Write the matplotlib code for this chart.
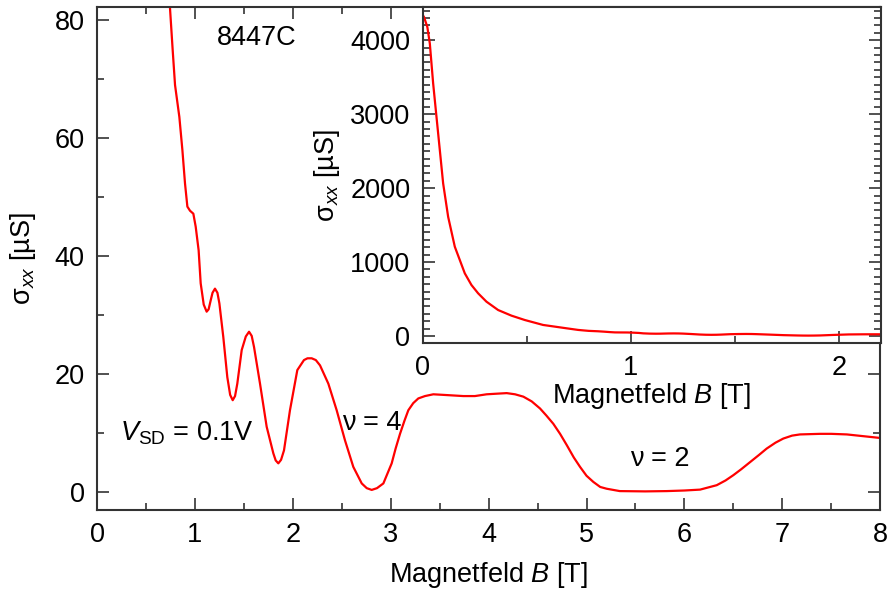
import numpy as np
import matplotlib
matplotlib.use('Agg')
import matplotlib.pyplot as plt
from matplotlib.ticker import MultipleLocator

plt.rcParams['font.family'] = ['Liberation Sans', 'DejaVu Sans']
plt.rcParams['mathtext.fontset'] = 'custom'
plt.rcParams['mathtext.rm'] = 'Liberation Sans'
plt.rcParams['mathtext.it'] = 'Liberation Sans:italic'
plt.rcParams['font.size'] = 19.5

# magnetic field [T] and sigma_xx [uS]
field = [0.0, 0.006, 0.022, 0.034, 0.050, 0.066, 0.082, 0.098, 0.122, 0.154,
         0.202, 0.234, 0.266, 0.306, 0.362, 0.426, 0.49, 0.578, 0.69, 0.746,
         0.773, 0.797, 0.841,
         0.872, 0.899, 0.923, 0.950, 0.984, 1.008, 1.038, 1.059, 1.09, 1.12,
         1.14, 1.161, 1.18, 1.205, 1.23, 1.25, 1.29, 1.331, 1.36, 1.386,
         1.41, 1.433, 1.478, 1.52, 1.553, 1.58, 1.604, 1.665, 1.733, 1.801,
         1.825, 1.852, 1.88, 1.91, 1.971, 2.046, 2.114, 2.15, 2.193, 2.235,
         2.278, 2.363, 2.448, 2.533, 2.618, 2.704, 2.755, 2.806, 2.86, 2.925,
         3.01, 3.05, 3.095, 3.14, 3.18, 3.23, 3.282, 3.35, 3.435, 3.54,
         3.742, 3.86, 3.98, 4.08, 4.185, 4.27, 4.355, 4.44, 4.525, 4.59,
         4.661, 4.73, 4.798, 4.87, 4.934, 5.0, 5.07, 5.14, 5.206, 5.34,
         5.6, 5.82, 6.0, 6.16, 6.33, 6.42, 6.50, 6.58, 6.67, 6.76,
         6.84, 6.93, 7.01, 7.1, 7.18, 7.385, 7.5, 7.66, 8.0]
sigma = [4340, 4315, 4180, 3955, 3415, 2964, 2514, 2063, 1612, 1207,
         847, 689, 577, 464, 351, 275, 216, 149, 104, 81.9,
         74.9, 69, 63.6,
         58, 52.3, 48.4, 47.7, 47.2, 45, 41, 35.4, 31.8, 30.6,
         31, 32.5, 33.8, 34.5, 33.8, 32, 26.3, 19.5, 16.5, 15.6,
         16.3, 18.4, 24.1, 26.4, 27.2, 26.5, 24.6, 18.4, 11.1, 6.6,
         5.4, 4.9, 5.5, 7.1, 13.9, 20.7, 22.4, 22.7, 22.7, 22.4,
         21.5, 18.4, 13.9, 8.8, 4.3, 1.5, 0.7, 0.4, 0.7, 1.5,
         4.9, 7.4, 9.9, 12.1, 13.9, 15.1, 15.9, 16.3, 16.6, 16.5,
         16.3, 16.3, 16.6, 16.7, 16.8, 16.6, 16.2, 15.4, 14.2, 13.0,
         11.6, 9.9, 8.0, 5.9, 4.3, 2.8, 1.75, 0.9, 0.6, 0.2,
         0.15, 0.2, 0.3, 0.45, 1.2, 2.0, 2.9, 3.9, 5.1, 6.3,
         7.4, 8.4, 9.1, 9.6, 9.8, 9.9, 9.9, 9.8, 9.2]

xlabel = 'Magnetfeld $B$ [T]'
ylabel = 'σ$_{xx}$ [µS]'
frame = '#333333'

fig = plt.figure(figsize=(8.9, 5.93), dpi=100)
ax = fig.add_axes([0.109, 0.14, 0.88, 0.848])
ax.plot(field, sigma, color='red', lw=1.6, solid_joinstyle='round')
ax.set_xlim(0, 8)
ax.set_ylim(-3, 82.2)
ax.xaxis.set_major_locator(MultipleLocator(1))
ax.xaxis.set_minor_locator(MultipleLocator(0.5))
ax.yaxis.set_major_locator(MultipleLocator(20))
ax.yaxis.set_minor_locator(MultipleLocator(10))
ax.tick_params(which='both', direction='in', top=True, right=True, width=1.2, color=frame)
ax.tick_params(which='major', length=8.5, pad=9)
ax.tick_params(which='minor', length=5)
for s in ax.spines.values():
    s.set_linewidth(1.5)
    s.set_color(frame)
ax.set_xlabel(xlabel, labelpad=8)
ax.set_ylabel(ylabel, labelpad=12)

ax.text(1.63, 77, '8447C', ha='center', va='center')
ax.text(0.235, 10, '$V_{\\mathrm{SD}}$ = 0.1V', ha='left', va='center')
ax.text(2.5, 11.7, 'ν = 4', ha='left', va='center')
ax.text(5.75, 5.6, 'ν = 2', ha='center', va='center')

# inset with the full range
ins = fig.add_axes([0.475, 0.4216, 0.5146, 0.5666])
ins.plot(field, sigma, color='red', lw=1.6, solid_joinstyle='round')
ins.set_xlim(0, 2.2)
ins.set_ylim(-95, 4450)
ins.xaxis.set_major_locator(MultipleLocator(1))
ins.xaxis.set_minor_locator(MultipleLocator(0.5))
ins.yaxis.set_major_locator(MultipleLocator(1000))
ins.yaxis.set_minor_locator(MultipleLocator(100))
ins.tick_params(which='both', direction='in', right=True, width=1.2, color=frame)
ins.tick_params(which='major', length=8.5, pad=9)
ins.tick_params(which='minor', length=5)
for s in ins.spines.values():
    s.set_linewidth(1.5)
    s.set_color(frame)
ins.set_xlabel(xlabel, labelpad=0)
ins.set_ylabel(ylabel, labelpad=6)

fig.savefig('out.png', dpi=100)
